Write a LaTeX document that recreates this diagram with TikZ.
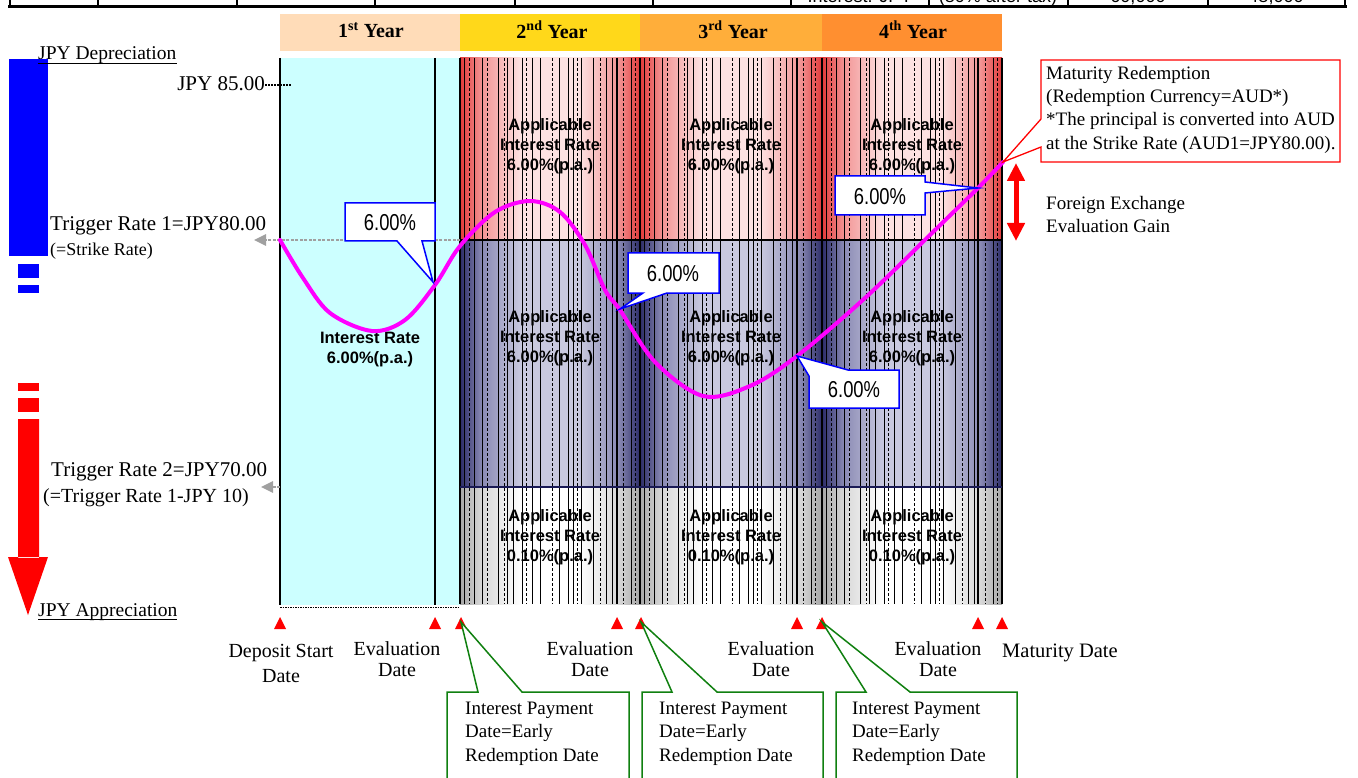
\documentclass[tikz,border=0pt]{standalone}
\usepackage{fontspec}
\setmainfont{Liberation Serif}
\setsansfont{Liberation Sans}
\usepackage{graphicx}
\usetikzlibrary{arrows.meta}
\definecolor{yr1}{HTML}{FFDCB8}
\definecolor{yr2}{HTML}{FFD81A}
\definecolor{yr3}{HTML}{FFAE3A}
\definecolor{yr4}{HTML}{FF8F30}
\definecolor{cyanbg}{HTML}{CCFFFF}
\definecolor{redE}{HTML}{E23A3A}
\definecolor{redM}{HTML}{F29494}
\definecolor{redC}{HTML}{FDE2E2}
\definecolor{navE}{HTML}{2C2C68}
\definecolor{navM}{HTML}{8A8AB4}
\definecolor{navC}{HTML}{C9C9DF}
\definecolor{gryE}{HTML}{A6A6A6}
\definecolor{gryM}{HTML}{D8D8D8}
\definecolor{gryC}{HTML}{FFFFFF}
\definecolor{navline}{HTML}{1A1A55}
\definecolor{grnline}{HTML}{108010}
\definecolor{grayarr}{HTML}{A0A0A0}
\definecolor{curvecol}{HTML}{FF00FF}
\pgfdeclarehorizontalshading{redcyl}{100bp}{color(0bp)=(redE); color(25bp)=(redE); color(31bp)=(redM); color(42bp)=(redC); color(58bp)=(redC); color(69bp)=(redM); color(75bp)=(redE); color(100bp)=(redE)}
\pgfdeclarehorizontalshading{navcyl}{100bp}{color(0bp)=(navE); color(25bp)=(navE); color(31bp)=(navM); color(42bp)=(navC); color(58bp)=(navC); color(69bp)=(navM); color(75bp)=(navE); color(100bp)=(navE)}
\pgfdeclarehorizontalshading{grycyl}{100bp}{color(0bp)=(gryE); color(25bp)=(gryE); color(31bp)=(gryM); color(42bp)=(gryC); color(58bp)=(gryC); color(69bp)=(gryM); color(75bp)=(gryE); color(100bp)=(gryE)}
\begin{document}
\begin{tikzpicture}[x=1pt,y=-1pt,
  lbl/.style={font=\fontsize{21}{25}\selectfont, inner sep=0pt},
  sublbl/.style={font=\fontsize{19.5}{23}\selectfont, inner sep=0pt},
  yrlbl/.style={font=\fontsize{20}{24}\selectfont\bfseries, inner sep=0pt},
  cellt/.style={font=\fontsize{16.5}{20}\selectfont\sffamily\bfseries, align=center, inner sep=0pt},
  datet/.style={font=\fontsize{20}{21}\selectfont, align=center, inner sep=0pt},
  boxt/.style={font=\fontsize{19}{23.3}\selectfont, align=left, inner sep=0pt, anchor=north west},
  tablet/.style={font=\fontsize{18}{20}\selectfont\sffamily, inner sep=0pt, anchor=base},
  pct/.style={font=\fontsize{23}{25}\selectfont\sffamily, inner sep=0pt},
  callblue/.style={draw=blue, fill=white, line width=1.5},
  callgreen/.style={draw=grnline, fill=white, line width=1.5},
  callred/.style={draw=red, fill=white, line width=1.3},
  tri/.style={fill=red},
  stripe/.style={line width=0.6, black},
  dstripe/.style={line width=0.6, black, dash pattern=on 3pt off 2pt},
  bound/.style={line width=1.5, black},
  grayarrow/.style={grayarr, line width=2.5, dash pattern=on 3pt off 1.5pt, -{Triangle[width=11pt,length=12pt]}},
  curve/.style={curvecol, line width=4, line cap=round, line join=round}
]
\useasboundingbox (0,0) rectangle (1358,778);
\fill[white] (0,0) rectangle (1358,778);

% ---- cut-off table at the top ----
\foreach \x in {10,98,237,375,515,653,791,929,1068,1208,1345}
  \draw[line width=2] (\x,-4) -- (\x,6);
\draw[line width=3.5] (8,6.5) -- (1347,6.5);
\node[tablet] (t1) at (860,3) {Interest: JPY};
\node[tablet] (t2) at (998,3) {(80\% after tax)};
\node[tablet] (t3) at (1138,3) {60,000};
\node[tablet] (t4) at (1276,3) {48,000};

% ---- year band ----
\fill[yr1] (280,14) rectangle (460,51);
\fill[yr2] (460,14) rectangle (640,51);
\fill[yr3] (640,14) rectangle (822,51);
\fill[yr4] (822,14) rectangle (1002,51);
\node[yrlbl] (y1) at (371,30) {1\textsuperscript{st} Year};
\node[yrlbl] (y2) at (552,30) {2\textsuperscript{nd} Year};
\node[yrlbl] (y3) at (733,30) {3\textsuperscript{rd} Year};
\node[yrlbl] (y4) at (913,30) {4\textsuperscript{th} Year};

% ---- first year area ----
\fill[cyanbg] (280,58) rectangle (460,605);
\draw[bound] (280,58) -- (280,605);
\draw[bound] (435,58) -- (435,605);
\draw[black, line width=0.8, dash pattern=on 1.5pt off 1pt] (280,607) -- (460,607);

% ---- year columns ----
\foreach \c/\w in {460/180,640/182,822/180}{
  \shade[shading=redcyl] (\c,58) rectangle ++(\w,182);
  \shade[shading=navcyl] (\c,240) rectangle ++(\w,247);
  \shade[shading=grycyl] (\c,487) rectangle ++(\w,117);
  \foreach \o in {4,14,22,38,47,53,62,72,80,99,108,113,121,133,146,152,171}
    \draw[stripe] (\c+\o,58) -- (\c+\o,604);
  \foreach \o in {9,27,44,66,92,117,140,163,175}
    \draw[dstripe] (\c+\o,58) -- (\c+\o,604);
}
\foreach \x in {460,617,640,797,822,978,1002}
  \draw[bound] (\x,58) -- (\x,604);
\draw[black, line width=1.8] (460,240) -- (1002,240);
\draw[navline, line width=2.5] (460,487) -- (1002,487);

% ---- cell texts ----
\node[cellt] (i1) at (370,350) {Interest Rate\\6.00\%(p.a.)};
\foreach \n/\x in {a/550,b/731,c/912}{
  \node[cellt] (h\n) at (\x,146) {Applicable\\Interest Rate\\6.00\%(p.a.)};
  \node[cellt] (m\n) at (\x,338) {Applicable\\Interest Rate\\6.00\%(p.a.)};
  \node[cellt] (l\n) at (\x,537) {Applicable\\Interest Rate\\0.10\%(p.a.)};
}

% ---- left scale ----
\fill[blue] (9,59) rectangle (48,256);
\fill[blue] (18,264) rectangle (39,278);
\fill[blue] (18,285) rectangle (39,293);
\fill[red] (18,383) rectangle (39,391);
\fill[red] (18,398) rectangle (39,412);
\fill[red] (18,419) rectangle (39,558) (8,557) -- (48,557) -- (28,615) -- cycle;

\node[sublbl, anchor=base west] (dep) at (38,60) {JPY Depreciation};
\draw[line width=1.6] (38,63.5) -- (177,63.5);
\node[sublbl, anchor=base west] (app) at (38,616) {JPY Appreciation};
\draw[line width=1.6] (38,619.5) -- (177,619.5);

\node[lbl, anchor=base east] (j85) at (265,91) {JPY 85.00};
\draw[black, line width=1.3, dash pattern=on 2pt off 1pt] (j85.base east) ++(0,-6) coordinate (j85e) -- (291,85);

\node[lbl, anchor=base west] (tr1) at (50,231) {Trigger Rate 1=JPY80.00};
\node[sublbl, anchor=base west, font=\fontsize{18}{22}\selectfont] (sr) at (50,256) {(=Strike Rate)};
\node[lbl, anchor=base west] (tr2) at (51,476) {Trigger Rate 2=JPY70.00};
\node[lbl, anchor=base west, font=\fontsize{20}{24}\selectfont] (tr2b) at (43,502) {(=Trigger Rate 1-JPY 10)};

\coordinate (s1a) at (460,240);
\coordinate (s1) at (280,240);
\coordinate (s1e) at (254,240);
\draw[grayarr, line width=2.5, dash pattern=on 3pt off 1.5pt] (s1a) -- (s1);
\draw[grayarrow] (s1) -- (s1e);
\coordinate (s2) at (280,487);
\coordinate (s2e) at (261,487);
\draw[grayarrow] (s2) -- (s2e);

% ---- exchange rate curve ----
\draw[curve] plot[smooth, tension=0.55] coordinates {(280,240) (303,278) (330,313) (372,331) (405,320) (435,285) (460,246) (495,212) (530,201) (560,212) (585,245) (605,290) (620,310) (655,362) (703,396) (750,386) (797,356) (865,298) (933,232) (978,188) (1003,162)};

% ---- 6.00% callouts ----
\filldraw[callblue] (345,203) -- (435,203) -- (435,241) -- (422,241) -- (433,282) -- (397,241) -- (345,241) -- cycle;
\node[pct] (p1) at (390,223) {\scalebox{0.8}[1]{6.00\%}};
\filldraw[callblue] (628,253) -- (719,253) -- (719,293) -- (667,293) -- (620,309) -- (643,293) -- (628,293) -- cycle;
\node[pct] (p2) at (673,274) {\scalebox{0.8}[1]{6.00\%}};
\filldraw[callblue] (809,376) -- (797,356) -- (848,370) -- (899,370) -- (899,408) -- (809,408) -- cycle;
\node[pct] (p3) at (854,390) {\scalebox{0.8}[1]{6.00\%}};
\filldraw[callblue] (835,176) -- (925,176) -- (925,182) -- (978,188) -- (925,193) -- (925,215) -- (835,215) -- cycle;
\node[pct] (p4) at (880,197) {\scalebox{0.8}[1]{6.00\%}};

% ---- maturity callout ----
\filldraw[callred] (1041,60) -- (1340,60) -- (1340,162) -- (1041,162) -- (1041,147) -- (1003,162) -- (1041,119) -- cycle;
\node[boxt] (mat) at (1046,66) {Maturity Redemption\\(Redemption Currency=AUD*)\\*The principal is converted into AUD\\at the Strike Rate (AUD1=JPY80.00).};

% ---- FX gain ----
\coordinate (g1) at (1016,163);
\coordinate (g2) at (1016,241);
\draw[red, line width=5, {Triangle[width=17pt,length=18pt]}-{Triangle[width=17pt,length=18pt]}] (g1) -- (g2);
\node[boxt] (fx) at (1046,196) {Foreign Exchange\\Evaluation Gain};

% ---- date markers ----
\foreach \x in {280,435,461,617,641,797,822,978,1002}
  \fill[tri] (\x-6,629) -- (\x+6,629) -- (\x,617) -- cycle;

\node[datet, font=\fontsize{20}{25}\selectfont] (dsd) at (281,663) {Deposit Start\\Date};
\node[datet] (ev1) at (397,659) {Evaluation\\Date};
\node[datet] (ev2) at (590,659) {Evaluation\\Date};
\node[datet] (ev3) at (771,659) {Evaluation\\Date};
\node[datet] (ev4) at (938,659) {Evaluation\\Date};
\node[datet, anchor=base west, font=\fontsize{20.5}{22}\selectfont] (md) at (1002,657) {Maturity Date};

% ---- interest payment callouts ----
\filldraw[callgreen] (447,692) -- (478,692) -- (461,622) -- (522,692) -- (629,692) -- (629,800) -- (447,800) -- cycle;
\node[boxt] (ip1) at (465,702) {Interest Payment\\Date=Early\\Redemption Date};
\filldraw[callgreen] (642,692) -- (672,692) -- (641,622) -- (717,692) -- (823,692) -- (823,800) -- (642,800) -- cycle;
\node[boxt] (ip2) at (659,702) {Interest Payment\\Date=Early\\Redemption Date};
\filldraw[callgreen] (836,692) -- (866,692) -- (822,622) -- (910,692) -- (1017,692) -- (1017,800) -- (836,800) -- cycle;
\node[boxt] (ip3) at (852,702) {Interest Payment\\Date=Early\\Redemption Date};
\end{tikzpicture}
\end{document}
